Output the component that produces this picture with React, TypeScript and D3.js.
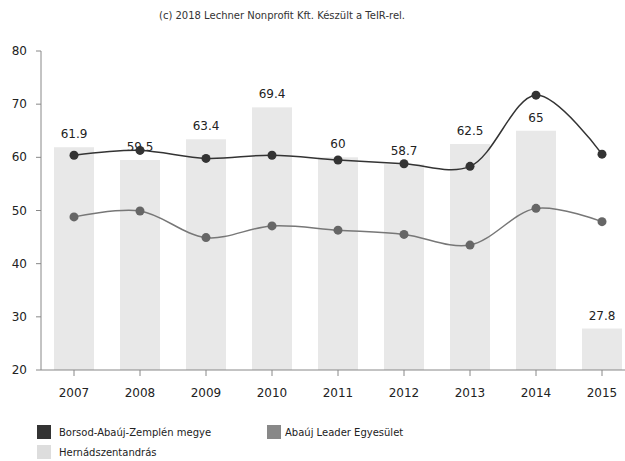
import React from "react";
import * as d3 from "d3";

const years = ["2007", "2008", "2009", "2010", "2011", "2012", "2013", "2014", "2015"];
const hernad = [61.9, 59.5, 63.4, 69.4, 60, 58.7, 62.5, 65, 27.8];
const borsod = [60.4, 61.3, 59.8, 60.4, 59.5, 58.8, 58.3, 71.7, 60.6];
const abauj = [48.8, 49.9, 44.9, 47.1, 46.3, 45.5, 43.5, 50.4, 47.9];
const yTicks = [20, 30, 40, 50, 60, 70, 80];
const title = "(c) 2018 Lechner Nonprofit Kft. Készült a TeIR-rel.";
const legendNames = ["Borsod-Abaúj-Zemplén megye", "Abaúj Leader Egyesület", "Hernádszentandrás"];

const W = 625, H = 461;
const left = 41, right = 635, top = 51, bottom = 370;
const font = "'DejaVu Sans', Verdana, sans-serif";

export default function App() {
  const x = d3.scaleBand().domain(years).range([left, right]).paddingInner(0.4).paddingOuter(0.2);
  const xc = d3.scalePoint().domain(years).range([left, right]).padding(0.5);
  const y = d3.scaleLinear().domain([20, 80]).range([bottom, top]);
  const line = d3.line<number>().x((_, i) => xc(years[i])!).y((d) => y(d)).curve(d3.curveCatmullRom.alpha(0.5));
  const bw = 40;

  return (
    <svg width={W} height={H} style={{ position: "absolute", left: 0, top: 0, background: "#fff" }} fontFamily={font}>
      <text x={282} y={19} textAnchor="middle" fontSize={10} fill="#333">{title}</text>
      {hernad.map((v, i) => (
        <rect key={i} x={xc(years[i])! - bw / 2} y={y(Math.max(v, 20))} width={bw} height={bottom - y(Math.max(v, 20))} fill="#e8e8e8" />
      ))}
      {hernad.map((v, i) => (
        <text key={i} x={xc(years[i])!} y={y(v) - 9} textAnchor="middle" fontSize={12} fill="#222">{String(v)}</text>
      ))}
      <path d={line(abauj)!} fill="none" stroke="#777" strokeWidth={1.5} />
      {abauj.map((v, i) => (
        <circle key={i} cx={xc(years[i])!} cy={y(v)} r={4.5} fill="#666" />
      ))}
      <path d={line(borsod)!} fill="none" stroke="#333" strokeWidth={1.5} />
      {borsod.map((v, i) => (
        <circle key={i} cx={xc(years[i])!} cy={y(v)} r={4.5} fill="#333" />
      ))}
      <line x1={left} x2={left} y1={top} y2={bottom} stroke="#888" />
      <line x1={left} x2={W} y1={bottom} y2={bottom} stroke="#888" />
      {yTicks.map((t) => (
        <g key={t}>
          <line x1={left - 5} x2={left} y1={y(t)} y2={y(t)} stroke="#888" />
          <text x={27} y={y(t) + 4} textAnchor="end" fontSize={12} fill="#222">{t}</text>
        </g>
      ))}
      {years.map((yr) => (
        <g key={yr}>
          <line x1={xc(yr)!} x2={xc(yr)!} y1={bottom} y2={bottom + 6} stroke="#888" />
          <text x={xc(yr)!} y={bottom + 27} textAnchor="middle" fontSize={12} fill="#222">{yr}</text>
        </g>
      ))}
      <rect x={37} y={425} width={14} height={14} fill="#333" />
      <text x={59} y={436} fontSize={10} fill="#222">{legendNames[0]}</text>
      <rect x={267} y={425} width={14} height={14} fill="#888" />
      <text x={285} y={436} fontSize={10} fill="#222">{legendNames[1]}</text>
      <rect x={37} y={445} width={14} height={14} fill="#ddd" />
      <text x={59} y={456} fontSize={10} fill="#222">{legendNames[2]}</text>
    </svg>
  );
}
